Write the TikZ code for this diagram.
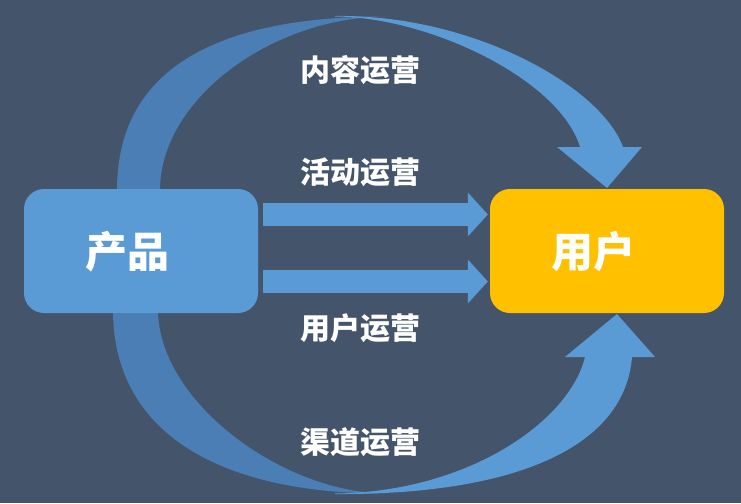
\documentclass[tikz,border=0pt]{standalone}
\usepackage{fontspec}
\newfontfamily\cjk{Noto Sans CJK SC}
\usetikzlibrary{arrows.meta}
\definecolor{bg}{HTML}{44546A}
\definecolor{blu}{HTML}{5B9BD5}
\definecolor{dblu}{HTML}{4A7EB5}
\definecolor{gold}{HTML}{FFC000}
\begin{document}
\begin{tikzpicture}[x=1pt,y=-1pt,
  box/.style={rounded corners=20pt, minimum width=234pt, minimum height=124pt, inner sep=0pt, draw=none},
  big/.style={text=white, inner sep=0pt, font=\cjk\bfseries\fontsize{42}{42}\selectfont},
  lbl/.style={text=white, inner sep=0pt, font=\cjk\bfseries\fontsize{30}{30}\selectfont},
  flow/.style={blu, line width=23pt, -{Triangle[length=20pt,width=44pt,line width=0pt]}},
]
\fill[bg] (0,0) rectangle (741,503);
\useasboundingbox (0,0) rectangle (741,503);
% top curved arrow
\fill[dblu] (117,190) .. controls (117,70) and (215,16.5) .. (385,16.5)
  .. controls (270,18) and (160,100) .. (160,190) -- cycle;
\fill[blu] (335,16) .. controls (470,14) and (600,85) .. (623,147) -- (642,147) -- (607,188)
  -- (557,147) -- (580,147) .. controls (560,80) and (430,17) .. (335,16.5) -- cycle;
% bottom curved arrow
\fill[dblu] (113,310) .. controls (113,430) and (215,493.5) .. (385,493.5)
  .. controls (280,492) and (158,400) .. (158,310) -- cycle;
\fill[blu] (335,494) .. controls (520,495) and (625,445) .. (632,357) -- (655,357) -- (617,314)
  -- (565,357) -- (585,357) .. controls (570,420) and (470,492) .. (335,493.5) -- cycle;
% boxes
\node[box, fill=blu] (prod) at (141,251) {};
\node[box, fill=gold] (user) at (607,251) {};
\node[big] (prodt) at (127,252) {产品};
\node[big] (usert) at (593,252) {用户};
% straight arrows
\draw[flow] ([xshift=5pt,yshift=36.5pt]prod.east) -- ([xshift=-2pt,yshift=36.5pt]user.west);
\draw[flow] ([xshift=5pt,yshift=-30.5pt]prod.east) -- ([xshift=-2pt,yshift=-30.5pt]user.west);
% labels
\node[lbl] (l1) at (360,70) {内容运营};
\node[lbl] (l2) at (360,172) {活动运营};
\node[lbl] (l3) at (360,328) {用户运营};
\node[lbl] (l4) at (360,442) {渠道运营};
\end{tikzpicture}
\end{document}
